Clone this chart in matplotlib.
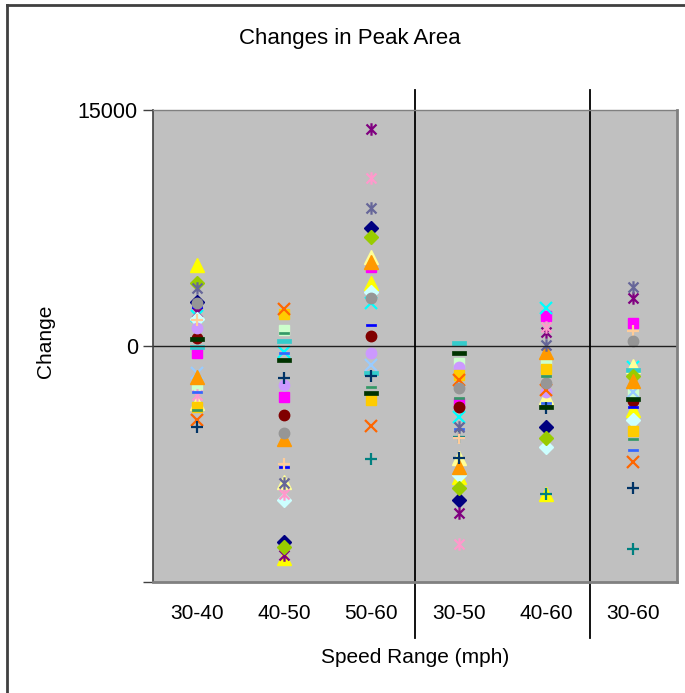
import numpy as np
import matplotlib
matplotlib.use("Agg")
from matplotlib import pyplot as plt
from matplotlib.path import Path
from matplotlib.lines import Line2D

plt.rcParams["font.family"] = ["Liberation Sans", "DejaVu Sans"]

nan = np.nan
categories = ["30-40", "40-50", "50-60", "30-50", "40-60", "30-60"]

# series colours / markers (Excel default order)
colors = ["#000080", "#FF00FF", "#FFFF00", "#00FFFF", "#800080", "#800000",
          "#008080", "#0000FF", "#CCFFFF", "#CCFFCC", "#FFFF99", "#99CCFF",
          "#FF99CC", "#CC99FF", "#FFCC99", "#3366FF", "#33CCCC", "#99CC00",
          "#FFCC00", "#FF9900", "#FF6600", "#666699", "#969696", "#003366",
          "#339966", "#003300"]
markers = ["D", "s", "^", "x", "star", "o", "+", "dash",
           "D", "s", "^", "x", "star", "o", "+", "dash", "longdash",
           "D", "s", "^", "x", "star", "o", "+", "dash", "longdash"]

values = [
    [2800, -12440, 7480, -9790, -5170, nan],
    [-450, -3260, 5040, -3600, 1910, 1480],
    [5150, -13500, 3980, -8300, -9410, -4070],
    [1900, -400, 2710, -4490, 2400, -1350],
    [2150, -13280, 13790, -10630, 870, 3030],
    [500, -4390, 660, -3900, -3640, -3500],
    [nan, nan, -7200, -5760, -9410, -12920],
    [2500, -7710, 1330, nan, -6400, -3900],
    [1700, -9790, 3450, -8200, -6400, -4700],
    [-2480, 1020, nan, -1100, -890, -2900],
    [-3600, -8620, 5680, -7140, -3220, -1270],
    [-1700, nan, -1210, nan, nan, -2900],
    [-3110, -9410, 10660, -12590, 1230, nan],
    [1150, -2480, -470, -1310, -2900, nan],
    [1650, -7500, nan, -5870, nan, 970],
    [-2900, -420, -3110, -5300, -3640, -6610],
    [-60, 340, -1740, 210, nan, -1530],
    [4000, -12800, 6950, -9000, -5830, -1910],
    [-3850, 2030, -3430, -1840, -1480, -5380],
    [-1950, -5930, 5360, -7670, -360, -2200],
    [-4700, 2330, -5080, -2160, -2800, -7350],
    [3700, -8730, 8750, -5170, 60, 3730],
    [2750, -5510, 3030, -2690, -2330, 340],
    [-5130, -2050, -1910, -7100, -3940, -9050],
    [-4070, 800, -2590, -3280, -1910, -5930],
    [450, -890, -3010, -470, -3900, -3370],
]

star = Path([(0, -1), (0, 1), (-0.8, -0.8), (0.8, 0.8), (-0.8, 0.8), (0.8, -0.8)],
            [Path.MOVETO, Path.LINETO] * 3)
dash = Path([(-1, -0.25), (1, -0.25), (1, 0.25), (-1, 0.25), (-1, -0.25)],
            [Path.MOVETO, Path.LINETO, Path.LINETO, Path.LINETO, Path.CLOSEPOLY])

fig = plt.figure(figsize=(6.85, 6.93), dpi=100)
ax = fig.add_axes([0.2234, 0.1602, 0.765, 0.6811])
ax.set_facecolor("#C0C0C0")

xpos = np.arange(len(categories)) + 0.5
for c, m, v in zip(colors, markers, values):
    if m == "star":
        ax.plot(xpos, v, ls="none", marker=star, ms=9, mec=c, mfc="none", mew=1.6)
    elif m == "dash":
        ax.plot(xpos, v, ls="none", marker=dash, ms=7, mec=c, mfc=c, mew=0.5)
    elif m == "longdash":
        ax.plot(xpos, v, ls="none", marker=dash, ms=10, mec=c, mfc=c, mew=0.5)
    elif m in ("x", "+"):
        ax.plot(xpos, v, ls="none", marker=m, ms=9, mec=c, mew=1.6)
    elif m == "^":
        ax.plot(xpos, v, ls="none", marker=m, ms=9.5, mec=c, mfc=c)
    else:
        ax.plot(xpos, v, ls="none", marker=m, ms=7.5, mec=c, mfc=c)

ax.set_xlim(0, 6)
ax.set_ylim(-15000, 15000)
ax.axhline(0, color="#202020", lw=1)

# group separators
for xs in [3, 5]:
    ax.plot([xs, xs], [-0.119, 1.042], color="black", lw=1.3,
            transform=ax.get_xaxis_transform(), clip_on=False)

ax.set_yticks([-15000, 0, 15000])
ax.set_yticklabels(["", "0", "15000"])
ax.set_xticks(xpos)
ax.set_xticklabels(categories)
ax.tick_params(axis="x", length=0, pad=16, labelsize=15)
ax.tick_params(axis="y", length=7, width=1, color="#404040", pad=4, labelsize=15.5)

for s in ["top", "right", "bottom"]:
    ax.spines[s].set_color("#808080")
    ax.spines[s].set_linewidth(2)
ax.spines["top"].set_linewidth(1)
ax.spines["left"].set_color("#404040")
ax.spines["left"].set_linewidth(1.2)

ax.set_ylabel("Change", fontsize=15)
ax.yaxis.set_label_coords(-0.187, 0.51)
ax.set_xlabel("Speed Range (mph)", fontsize=15)
ax.xaxis.set_label_coords(0.5, -0.14)
fig.text(0.511, 0.945, "Changes in Peak Area", ha="center", va="center", fontsize=16)

# chart area border
fig.add_artist(Line2D([0.0102, 0.0102], [0, 0.993], color="#404040", lw=2))
fig.add_artist(Line2D([0.0102, 1], [0.993, 0.993], color="#404040", lw=2))

fig.savefig("out.png", dpi=100)
